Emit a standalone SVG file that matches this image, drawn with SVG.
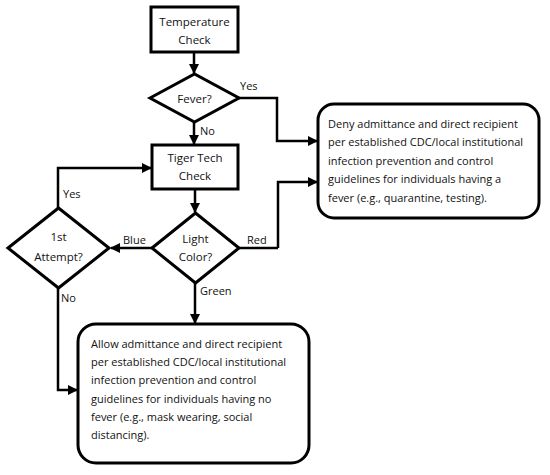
<svg xmlns="http://www.w3.org/2000/svg" width="550" height="475" viewBox="0 0 550 475">
<style>
.box{fill:#fff;stroke:#000;stroke-width:3}
.ln{fill:none;stroke:#000;stroke-width:2.5}
text{font-family:"Open Sans","Liberation Sans",sans-serif;fill:#111}
.t{font-size:11.5px;text-anchor:middle}
.lb{font-size:11px}
.p{font-size:11px}
</style>
<defs>
<marker id="ah" viewBox="0 0 10 10" refX="9" refY="5" markerWidth="4" markerHeight="4" markerUnits="strokeWidth" orient="auto">
<path d="M0,0 L10,5 L0,10 z" fill="#000"/>
</marker>
</defs>
<rect width="550" height="475" fill="#fff"/>
<g id="connectors">
<path class="ln" d="M194,52 V73" marker-end="url(#ah)"/>
<path class="ln" d="M239,98 H277 V141 H317" marker-end="url(#ah)"/>
<path class="ln" d="M194,122 V144" marker-end="url(#ah)"/>
<path class="ln" d="M195,189 V212" marker-end="url(#ah)"/>
<path class="ln" d="M278,248 V182 H317" marker-end="url(#ah)"/>
<path class="ln" d="M239,248 H278"/>
<path class="ln" d="M152,248 H111" marker-end="url(#ah)"/>
<path class="ln" d="M58,208 V168 H151" marker-end="url(#ah)"/>
<path class="ln" d="M58,288 V390 H77" marker-end="url(#ah)"/>
<path class="ln" d="M195,283 V323" marker-end="url(#ah)"/>
<text class="lb" x="240" y="90">Yes</text>
<text class="lb" x="200" y="135">No</text>
<text class="lb" x="63" y="198">Yes</text>
<text class="lb" x="123" y="244">Blue</text>
<text class="lb" x="247" y="244">Red</text>
<text class="lb" x="200" y="295">Green</text>
<text class="lb" x="61" y="302">No</text>
</g>
<g id="temperature-check">
<rect class="box" x="151" y="7" width="87" height="45"/>
<text class="t" x="194.5" y="26">Temperature</text>
<text class="t" x="194.5" y="44">Check</text>
</g>
<g id="fever">
<path class="box" d="M150,98 L194.5,74 L239,98 L194.5,122 z"/>
<text class="t" x="194.5" y="103">Fever?</text>
</g>
<g id="tiger-tech-check">
<rect class="box" x="152" y="145" width="86" height="44"/>
<text class="t" x="195" y="162">Tiger Tech</text>
<text class="t" x="195" y="180">Check</text>
</g>
<g id="light-color">
<path class="box" d="M152,248 L195.5,213 L239,248 L195.5,283 z"/>
<text class="t" x="195.5" y="243">Light</text>
<text class="t" x="195.5" y="261">Color?</text>
</g>
<g id="first-attempt">
<path class="box" d="M8,248 L58.5,208 L109,248 L58.5,288 z"/>
<text class="t" x="58.5" y="241">1st</text>
<text class="t" x="58.5" y="261">Attempt?</text>
</g>
<g id="deny">
<rect class="box" x="318" y="104" width="221" height="114" rx="16"/>
<text class="p" x="328" y="128">Deny admittance and direct recipient</text>
<text class="p" x="328" y="146">per established CDC/local institutional</text>
<text class="p" x="328" y="165">infection prevention and control</text>
<text class="p" x="328" y="183">guidelines for individuals having a</text>
<text class="p" x="328" y="202">fever (e.g., quarantine, testing).</text>
</g>
<g id="allow">
<rect class="box" x="78" y="324" width="231" height="139" rx="18"/>
<text class="p" x="91" y="348">Allow admittance and direct recipient</text>
<text class="p" x="91" y="366">per established CDC/local institutional</text>
<text class="p" x="91" y="384">infection prevention and control</text>
<text class="p" x="91" y="403">guidelines for individuals having no</text>
<text class="p" x="91" y="421">fever (e.g., mask wearing, social</text>
<text class="p" x="91" y="439">distancing).</text>
</g>
</svg>
